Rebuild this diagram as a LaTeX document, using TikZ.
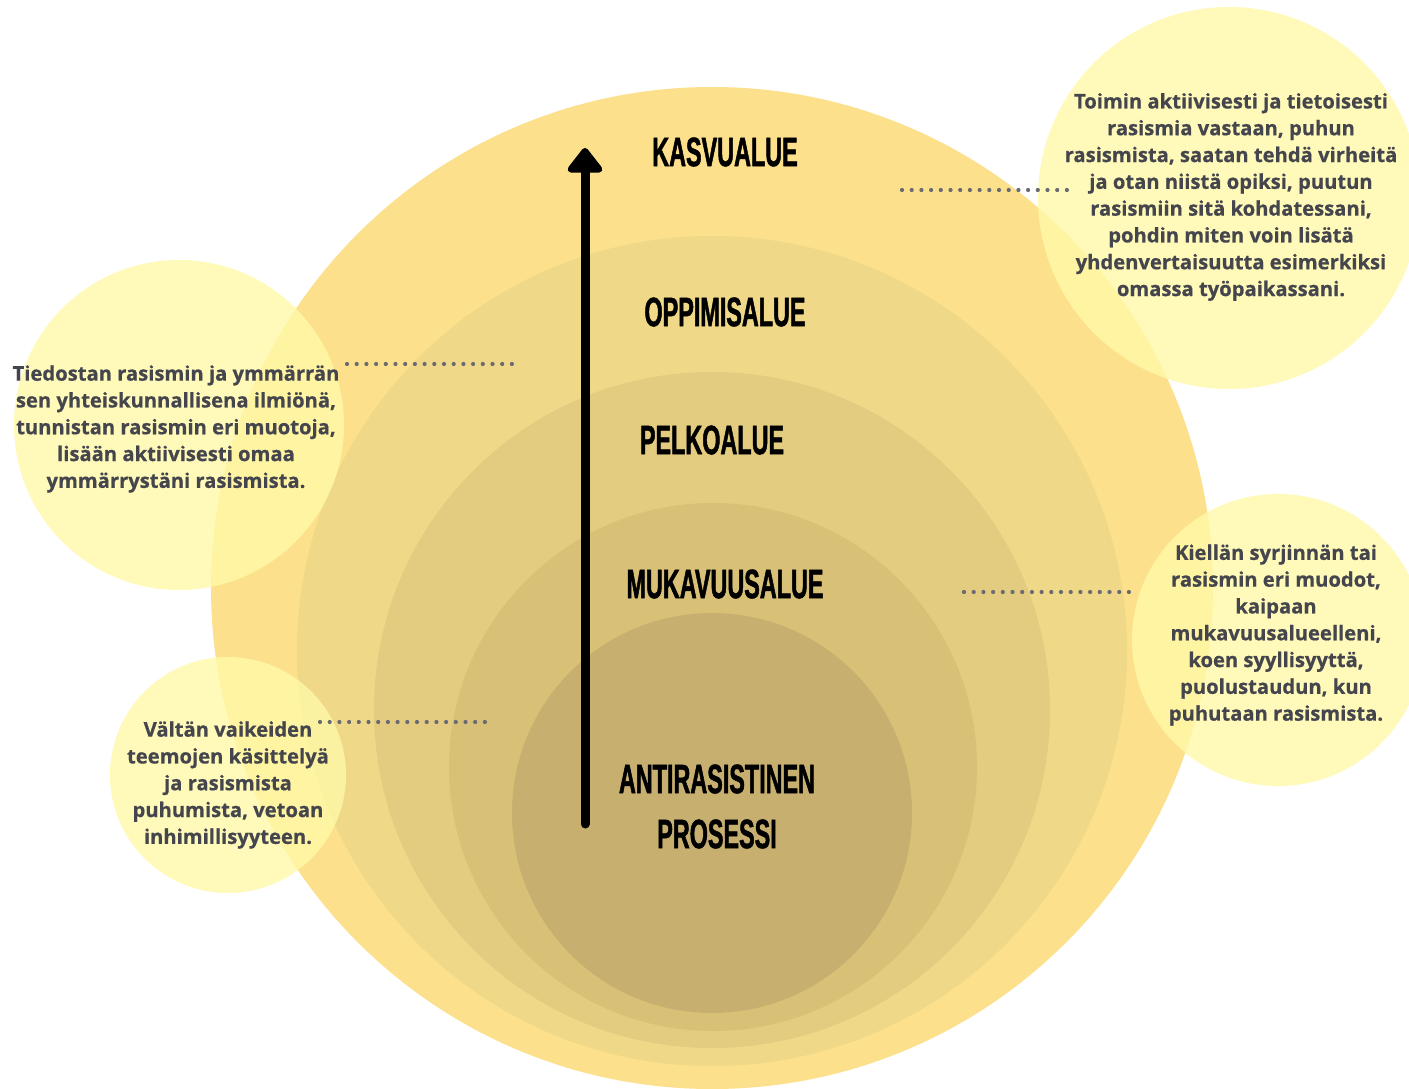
\documentclass[tikz,border=0pt]{standalone}
\usepackage{fontspec}
\setmainfont{Open Sans}
\newfontfamily\labfont[FakeStretch=0.57,FakeBold=1.2]{Liberation Sans}
\newfontfamily\bodyfont[FakeBold=0.6]{Open Sans}
\usetikzlibrary{arrows.meta}
\definecolor{zoneA}{HTML}{FCE08B}
\definecolor{zoneB}{HTML}{EFD888}
\definecolor{zoneC}{HTML}{E3CB7F}
\definecolor{zoneD}{HTML}{D8C076}
\definecolor{zoneE}{HTML}{C7B06F}
\definecolor{bubble}{HTML}{FFF9A8}
\definecolor{bodygray}{HTML}{45464D}
\definecolor{dotgray}{HTML}{6A6A72}
\tikzset{
  zone/.style={circle, draw=none, inner sep=0pt},
  bubblecirc/.style={circle, draw=none, fill=bubble, fill opacity=0.8, inner sep=0pt},
  zonelabel/.style={font=\labfont\bfseries\fontsize{41}{55}\selectfont, text=black, align=center, inner sep=0pt},
  bodytext/.style={font=\bodyfont\bfseries\fontsize{20.2}{26.8}\selectfont, text=bodygray, align=center, inner sep=0pt},
  leader/.style={draw=dotgray, line width=4.2pt, line cap=round, dash pattern=on 0pt off 9.7pt},
}
\begin{document}
\begin{tikzpicture}[x=1pt,y=-1pt]
\useasboundingbox (0,0) rectangle (1409,1089);
\clip (0,0) rectangle (1409,1089);
\fill[white] (0,0) rectangle (1409,1089);
% nested zones
\node[zone, fill=zoneA, minimum size=1002pt] (z1) at (712,588) {};
\node[zone, fill=zoneB, minimum size=830pt] (z2) at (712,651) {};
\node[zone, fill=zoneC, minimum size=676pt] (z3) at (712,710) {};
\node[zone, fill=zoneD, minimum size=528pt] (z4) at (713,767) {};
\node[zone, fill=zoneE, minimum size=400pt] (z5) at (712,813) {};
% bubbles
\node[bubblecirc, minimum size=382pt] (b1) at (1229,198) {};
\node[bubblecirc, minimum size=330pt] (b2) at (179,425) {};
\node[bubblecirc, minimum size=236pt] (b3) at (228,775) {};
\node[bubblecirc, minimum size=292pt] (b4) at (1278,640) {};
% arrow
\coordinate (arrowbot) at (585,824);
\coordinate (arrowtop) at (585,148);
\draw[line width=9pt, line cap=round, -{Triangle[width=40pt,length=27pt,round]}] (arrowbot) -- (arrowtop);
% zone labels
\node[zonelabel] (l1) at (725,152) {KASVUALUE};
\node[zonelabel] (l2) at (725,312) {OPPIMISALUE};
\node[zonelabel] (l3) at (712,440) {PELKOALUE};
\node[zonelabel] (l4) at (725,584) {MUKAVUUSALUE};
\node[zonelabel] (l5) at (717,779) {ANTIRASISTINEN};
\node[zonelabel] (l6) at (717,834) {PROSESSI};
% descriptions
\node[bodytext] (t1) at (1231,197) {Toimin aktiivisesti ja tietoisesti\\rasismia vastaan, puhun\\rasismista, saatan tehdä virheitä\\ja otan niistä opiksi, puutun\\rasismiin sitä kohdatessani,\\pohdin miten voin lisätä\\yhdenvertaisuutta esimerkiksi\\omassa työpaikassani.};
\node[bodytext] (t2) at (176,429) {Tiedostan rasismin ja ymmärrän\\sen yhteiskunnallisena ilmiönä,\\tunnistan rasismin eri muotoja,\\lisään aktiivisesti omaa\\ymmärrystäni rasismista.};
\node[bodytext] (t3) at (228,785) {Vältän vaikeiden\\teemojen käsittelyä\\ja rasismista\\puhumista, vetoan\\inhimillisyyteen.};
\node[bodytext] (t4) at (1276,635) {Kiellän syrjinnän tai\\rasismin eri muodot,\\kaipaan\\mukavuusalueelleni,\\koen syyllisyyttä,\\puolustaudun, kun\\puhutaan rasismista.};
% leaders
\coordinate (d1a) at (902,190); \coordinate (d1b) at (1073,190);
\coordinate (d2a) at (347,364); \coordinate (d2b) at (519,364);
\coordinate (d3a) at (320,722); \coordinate (d3b) at (492,722);
\coordinate (d4a) at (964,592); \coordinate (d4b) at (1135,592);
\draw[leader] (d1a) -- (d1b);
\draw[leader] (d2a) -- (d2b);
\draw[leader] (d3a) -- (d3b);
\draw[leader] (d4a) -- (d4b);
\end{tikzpicture}
\end{document}
